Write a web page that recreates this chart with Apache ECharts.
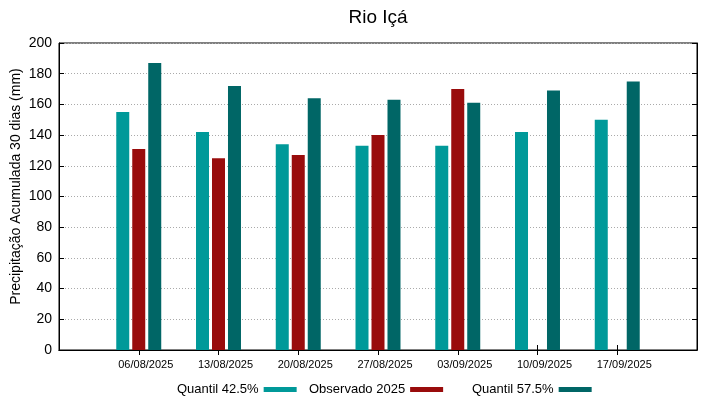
<!DOCTYPE html>
<html>
<head>
<meta charset="utf-8">
<script src="https://cdn.jsdelivr.net/npm/echarts@6/dist/echarts.min.js"></script>
<style>
  html, body { margin: 0; padding: 0; background: #fff; }
  #chart { width: 719px; height: 399px; }
</style>
</head>
<body>
<div id="chart"></div>
<script>
// dates, padded with an empty slot each side (xrange -1..7)
const categories = ['', '06/08/2025', '13/08/2025', '20/08/2025', '27/08/2025', '03/09/2025', '10/09/2025', '17/09/2025', ''];
const quantil425 = [null, 155, 142, 134, 133, 133, 142, 150, null];
const observado = [null, 131, 125, 127, 140, 170, null, null, null];
const quantil575 = [null, 187, 172, 164, 163, 161, 169, 175, null];
const yTicks = { min: 0, max: 200, interval: 20 };

const font = 'Liberation Sans';
const colors = ['#009999', '#990c0c', '#006666'];
const names = ['Quantil 42.5%', 'Observado 2025', 'Quantil 57.5%'];

function legendFor(name, left) {
  return {
    data: [name],
    left: left,
    top: 378,
    align: 'right',
    icon: 'rect',
    itemWidth: 33,
    itemHeight: 5,
    textStyle: { fontFamily: font, fontSize: 13, color: '#000' }
  };
}

const tickShow = (i) => i > 0 && i < categories.length - 1;

const option = {
  animation: false,
  color: colors,
  title: {
    text: 'Rio Içá',
    left: 373,
    textAlign: 'center',
    top: 3,
    textStyle: { fontFamily: font, fontSize: 19, fontWeight: 'normal', color: '#000' }
  },
  legend: [
    legendFor(names[0], 172),
    legendFor(names[1], 304),
    legendFor(names[2], 467)
  ],
  grid: {
    left: 59, right: 22, top: 43, bottom: 49,
    outerBoundsMode: 'none', containLabel: false,
    show: true, borderColor: '#000', borderWidth: 1
  },
  xAxis: [{
    type: 'category',
    data: categories,
    boundaryGap: false,
    axisLine: { lineStyle: { color: '#000' } },
    axisTick: { inside: true, length: 5, interval: tickShow, lineStyle: { color: '#000' } },
    axisLabel: { fontFamily: font, fontSize: 11, color: '#000', margin: 9, padding: [0, 0, 0, 14], interval: 0 },
    splitLine: { show: false }
  }, {
    type: 'category',
    data: categories,
    boundaryGap: false,
    position: 'top',
    axisLine: { lineStyle: { color: '#000' } },
    axisTick: { inside: true, length: 5, interval: tickShow, lineStyle: { color: '#000' } },
    axisLabel: { show: false }
  }],
  yAxis: [{
    type: 'value',
    min: yTicks.min, max: yTicks.max, interval: yTicks.interval,
    name: 'Precipitação Acumulada 30 dias (mm)',
    nameLocation: 'middle',
    nameGap: 36,
    nameMoveOverlap: false,
    nameTextStyle: { fontFamily: font, fontSize: 14, color: '#000', padding: [0, 0, 0, 20] },
    axisLine: { show: true, lineStyle: { color: '#000' } },
    axisTick: { show: true, inside: true, length: 5, lineStyle: { color: '#000' } },
    axisLabel: { fontFamily: font, fontSize: 14, color: '#000', margin: 7 },
    splitLine: { show: true, lineStyle: { color: '#aaa', type: [1, 2], width: 1 } }
  }, {
    type: 'value',
    min: yTicks.min, max: yTicks.max, interval: yTicks.interval,
    position: 'right',
    axisLine: { show: true, lineStyle: { color: '#000' } },
    axisTick: { show: true, inside: true, length: 5, lineStyle: { color: '#000' } },
    axisLabel: { show: false },
    splitLine: { show: false }
  }],
  series: [
    { name: names[0], type: 'bar', data: quantil425, barWidth: 13, barGap: '23%' },
    { name: names[1], type: 'bar', data: observado, barWidth: 13, barGap: '23%' },
    { name: names[2], type: 'bar', data: quantil575, barWidth: 13, barGap: '23%' }
  ]
};

const chart = echarts.init(document.getElementById('chart'));
chart.setOption(option);
</script>
</body>
</html>
